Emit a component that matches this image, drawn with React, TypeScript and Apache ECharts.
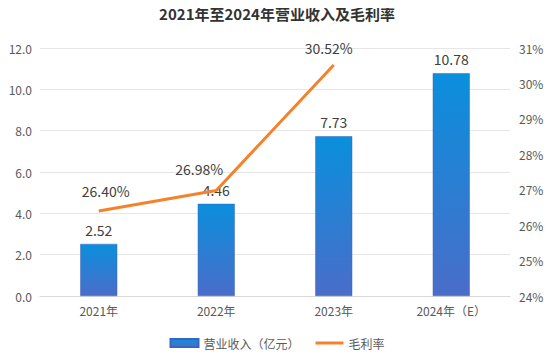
import React, { useEffect, useRef } from "react";
import * as echarts from "echarts";

const categories = ["2021年", "2022年", "2023年", "2024年（E）"];
const revenue = [2.52, 4.46, 7.73, 10.78];
const grossMargin = [26.4, 26.98, 30.52, null];
const marginLabels = ["26.40%", "26.98%", "30.52%", ""];

export default function App() {
  const ref = useRef<HTMLDivElement>(null);
  useEffect(() => {
    if (!ref.current) return;
    const chart = echarts.init(ref.current, null, { renderer: "svg" });
    const font = "'Microsoft YaHei', 'Noto Sans CJK SC', sans-serif";
    const labelOffsets = [[7, -1], [-17, -2], [-5, 2], [0, 0]];
    chart.setOption({
      animation: false,
      textStyle: { fontFamily: font },
      title: {
        text: "2021年至2024年营业收入及毛利率",
        left: "center",
        top: 1,
        textStyle: { fontSize: 15, fontWeight: "bold", color: "#333", fontFamily: font },
      },
      legend: {
        bottom: 6,
        itemGap: 16,
        itemWidth: 28,
        itemHeight: 8,
        textStyle: { color: "#595959", fontSize: 12 },
        data: [
          { name: "营业收入（亿元）", icon: "rect" },
          { name: "毛利率", icon: "path://M0,0 H28 V3 H0 Z" },
        ],
      },
      grid: { left: 40, right: 44, top: 48, bottom: 64 },
      xAxis: {
        type: "category",
        data: categories,
        axisTick: { show: false },
        axisLine: { lineStyle: { color: "#d9d9d9" } },
        axisLabel: { color: "#595959", fontSize: 12, margin: 8 },
      },
      yAxis: [
        {
          type: "value",
          min: 0,
          max: 12,
          interval: 2,
          axisLabel: { color: "#595959", fontSize: 12, formatter: (v: number) => v.toFixed(1), margin: 8 },
          splitLine: { lineStyle: { color: "#e6e6e6" } },
          axisLine: { show: false },
          axisTick: { show: false },
        },
        {
          type: "value",
          min: 24,
          max: 31,
          interval: 1,
          axisLabel: { color: "#595959", fontSize: 12, formatter: (v: number) => v + "%", margin: 9 },
          splitLine: { show: false },
          axisLine: { show: false },
          axisTick: { show: false },
        },
      ],
      series: [
        {
          name: "营业收入（亿元）",
          type: "bar",
          data: revenue,
          barWidth: 37,
          itemStyle: {
            color: new echarts.graphic.LinearGradient(0, 0, 0, 1, [
              { offset: 0, color: "#0a8fdc" },
              { offset: 1, color: "#4a6dc9" },
            ]),
            borderColor: "#3b64c0",
            borderWidth: 0.5,
          },
          label: {
            show: true,
            position: "top",
            distance: 7,
            color: "#404040",
            fontSize: 14,
            formatter: (p: any) => p.value.toFixed(2),
          },
        },
        {
          name: "毛利率",
          type: "line",
          yAxisIndex: 1,
          data: grossMargin.map((v, i) => ({ value: v, label: { offset: labelOffsets[i] } })),
          symbol: "circle",
          symbolSize: 0,
          lineStyle: { color: "#f5822a", width: 3 },
          itemStyle: { color: "#f5822a" },
          label: {
            show: true,
            position: "top",
            distance: 12,
            color: "#404040",
            fontSize: 14,
            formatter: (p: any) => marginLabels[p.dataIndex],
          },
        },
      ],
    });
    return () => chart.dispose();
  }, []);
  return <div ref={ref} style={{ width: 554, height: 360, margin: -8 }} />;
}
